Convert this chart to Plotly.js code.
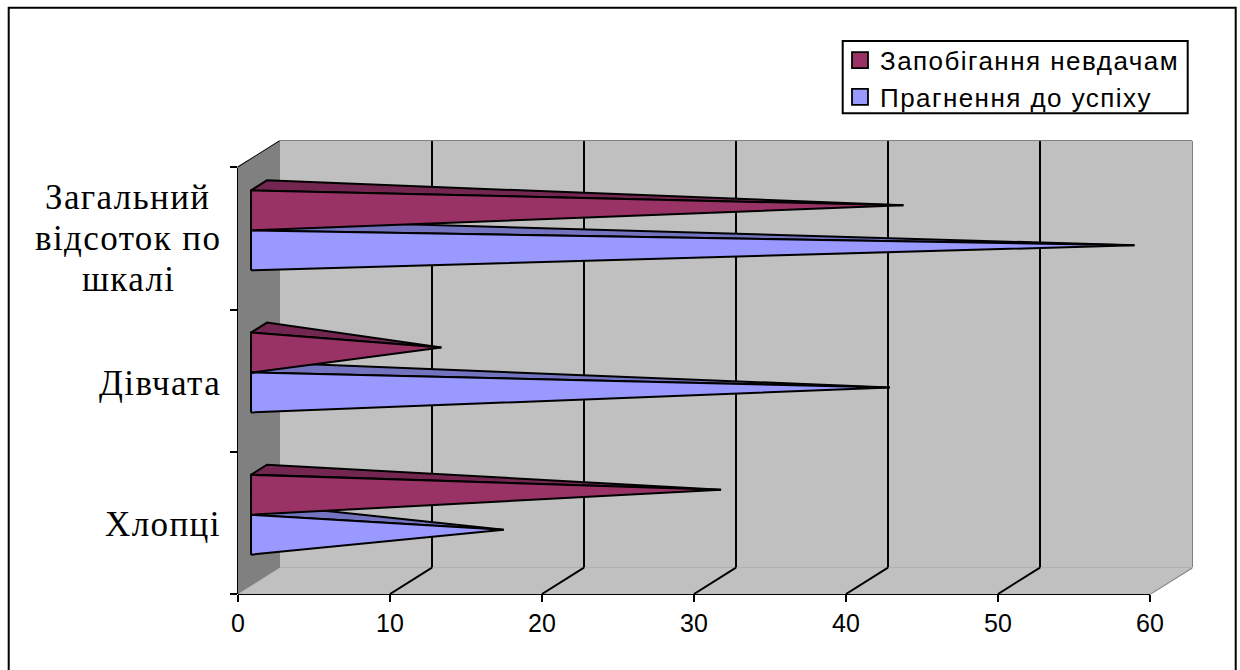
<!DOCTYPE html>
<html><head><meta charset="utf-8">
<script src="https://cdn.plot.ly/plotly-3.0.1.min.js"></script>
<style>html,body{margin:0;padding:0;background:#fff;overflow:hidden}
.legendtext{letter-spacing:1.45px}
.annotation-text{letter-spacing:1.4px}
</style>
</head><body><div id="chart" style="width:1240px;height:670px"></div>
<script>
const categories = ["Хлопці", "Дівчата", "Загальний|відсоток по|шкалі"];
const avoidFailure = [30.4, 12.0, 42.4];
const seekSuccess = [16.1, 41.5, 57.6];
const seriesNames = ["Запобігання невдачам", "Прагнення до успіху"];
const xTicks = [0, 10, 20, 30, 40, 50, 60];

// Pseudo-3D projection: one unit of depth shifts a point right and up
const pxX = 15.2, pxY = 142.43;
const depthX = 42 / pxX, depthY = 26.5 / pxY;
const xMax = 60 + depthX, yMax = 3 + depthY;
const dFront = 0.31, dBack = 0.69, dMid = 0.5;
const barH = 40 / pxY;
const proj = (v, c, d) => [v + depthX * d, c + depthY * d];

function pyramidFaces(v, catIdx, above, front, top, name) {
  const c = catIdx + 0.5;
  const lo = above ? c : c - barH, hi = lo + barH;
  const mid = (lo + hi) / 2;
  const tip = proj(v, mid, dMid);
  const a = proj(0, lo, dFront), b = proj(0, hi, dFront), e = proj(0, hi, dBack);
  const poly = (pts, color) => ({
    type: 'scatter', mode: 'lines', fill: 'toself', fillcolor: color, showlegend: false,
    x: pts.map(p => p[0]), y: pts.map(p => p[1]), name: name, hoverinfo: 'skip',
    line: {color: '#000', width: 2}
  });
  return [poly([b, e, tip, b], top), poly([a, b, tip, a], front)];
}

const traces = [];
seriesNames.forEach((n, i) => traces.push({
  type: 'scatter', mode: 'markers', x: [null], y: [null], name: n,
  marker: {symbol: 'square', size: 16, color: ['#993366', '#9999ff'][i], line: {color: '#000', width: 1.8}}
}));
categories.forEach((_, i) => {
  traces.push(...pyramidFaces(seekSuccess[i], i, false, '#9999ff', '#7373bf', seriesNames[1]));
  traces.push(...pyramidFaces(avoidFailure[i], i, true, '#993366', '#732650', seriesNames[0]));
});

const gray = {color: '#808080', width: 2}, black = {color: '#000', width: 2};
const path = pts => 'M' + pts.map(p => p[0] + ' ' + p[1]).join(' L') + ' Z';
const seg = (a, b, line) => ({type: 'line', layer: 'below', xref: 'x', yref: 'y', x0: a[0], y0: a[1], x1: b[0], y1: b[1], line});
const segPaper = (a, b, line) => ({type: 'line', layer: 'below', xref: 'paper', yref: 'paper',
  x0: a[0] / xMax, y0: a[1] / yMax, x1: b[0] / xMax, y1: b[1] / yMax, line});
const area = (pts, fill) => ({type: 'path', layer: 'below', xref: 'x', yref: 'y', path: path(pts), fillcolor: fill, line: {width: 0}});
const pagePx = (x, y) => [(x - 238) / 954, (594 - y) / 453.2];

const shapes = [
  area([[depthX, depthY], [xMax, depthY], [xMax, yMax], [depthX, yMax]], '#c0c0c0'),
  area([[0, 0], [depthX, depthY], [depthX, yMax], [0, 3]], '#808080'),
  area([[0, 0], [60, 0], [xMax, depthY], [depthX, depthY]], '#c0c0c0'),
  segPaper([depthX, depthY], [xMax, depthY], gray),
  segPaper([depthX, yMax], [xMax, yMax], gray),
  segPaper([xMax, depthY], [xMax, yMax], gray),
  segPaper([depthX, depthY], [depthX, yMax], gray),
  segPaper([60, 0], [xMax, depthY], gray),
  segPaper([0, 0], [depthX, depthY], gray),
];
xTicks.slice(1, -1).forEach(v => {
  shapes.push(seg([v + depthX, depthY], [v + depthX, yMax], black));
  shapes.push(seg([v, 0], [v + depthX, depthY], black));
});
shapes.push(segPaper([0, 0], [60, 0], black), segPaper([0, 0], [0, 3], black), segPaper([0, 3], [depthX, yMax], black));

const frameA = pagePx(8.7, 7.5), frameB = pagePx(1235.7, 690);
shapes.push({type: 'rect', layer: 'below', xref: 'paper', yref: 'paper',
  x0: frameA[0], x1: frameB[0], y0: frameB[1], y1: frameA[1], line: {color: '#000', width: 2}, fillcolor: 'rgba(0,0,0,0)'});
const boxA = pagePx(842.7, 40.7), boxB = pagePx(1187.7, 113);
shapes.push({type: 'rect', layer: 'below', xref: 'paper', yref: 'paper',
  x0: boxA[0], x1: boxB[0], y0: boxB[1], y1: boxA[1], line: {color: '#000', width: 2}, fillcolor: '#fff'});

const labelShift = [-2, -3, 0];
const lineGap = 41;
const annotations = [];
categories.forEach((c, i) => {
  const lines = c.split('|');
  lines.forEach((ln, k) => annotations.push({
    text: ln, xref: 'x', yref: 'y', x: 0, y: i + 0.5,
    xanchor: lines.length > 1 ? 'center' : 'right',
    xshift: lines.length > 1 ? -110 : -15,
    yanchor: 'middle', yshift: labelShift[i] + ((lines.length - 1) / 2 - k) * lineGap,
    showarrow: false, font: {family: 'Liberation Serif', size: 35, color: '#000'}
  }));
});

const layout = {
  width: 1240, height: 670, paper_bgcolor: '#fff', plot_bgcolor: 'rgba(0,0,0,0)',
  margin: {l: 238, r: 48, t: 140.8, b: 76, pad: 0}, autosize: false,
  showlegend: true, shapes, annotations,
  legend: {x: (840 - 238) / 954, y: (594 - 36.5) / 453.2, xanchor: 'left', yanchor: 'top',
    bgcolor: 'rgba(0,0,0,0)', borderwidth: 0, traceorder: 'normal',
    font: {family: 'Liberation Sans', size: 26, color: '#000'}, itemclick: false},
  xaxis: {range: [0, xMax], tickvals: xTicks, ticks: 'outside', ticklen: 7, tickwidth: 2, tickcolor: '#000',
    showgrid: false, zeroline: false, showline: false, fixedrange: true,
    tickfont: {family: 'Liberation Sans', size: 25, color: '#000'}},
  yaxis: {range: [0, yMax], tickvals: [0, 1, 2, 3], ticktext: ['', '', '', ''], ticks: 'outside', ticklen: 7, tickwidth: 2,
    tickcolor: '#000', showgrid: false, zeroline: false, showline: false, fixedrange: true}
};
Plotly.newPlot('chart', traces, layout, {displayModeBar: false, staticPlot: true});
</script></body></html>
